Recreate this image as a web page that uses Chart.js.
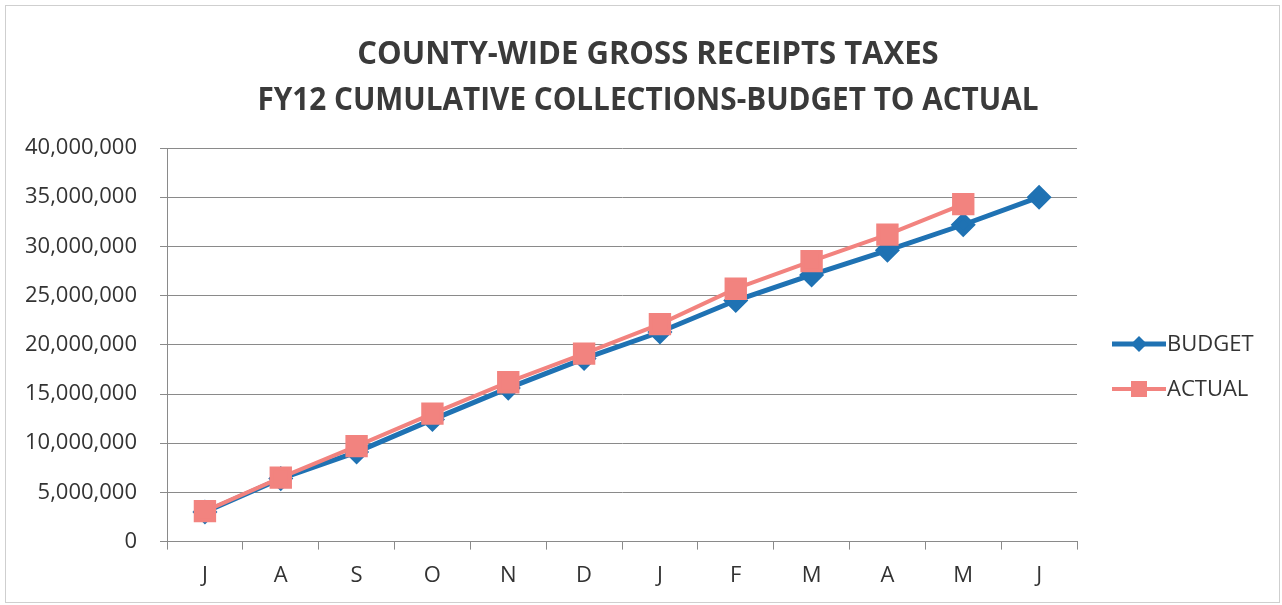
<!DOCTYPE html>
<html>
<head>
<meta charset="utf-8">
<script src="https://cdn.jsdelivr.net/npm/chart.js@4/dist/chart.umd.min.js"></script>
<style>
  html, body { margin: 0; padding: 0; background: #fff; }
  #wrap { width: 1282px; height: 605px; }
</style>
</head>
<body>
<div id="wrap"><canvas id="myChart" width="1282" height="605"></canvas></div>
<script>
// months of FY12 (July - June)
const months = ['J', 'A', 'S', 'O', 'N', 'D', 'J', 'F', 'M', 'A', 'M', 'J'];
const budget = [3000000, 6400000, 9100000, 12400000, 15600000, 18600000, 21300000, 24500000, 27100000, 29600000, 32200000, 35000000];
const actual = [3100000, 6500000, 9700000, 13000000, 16200000, 19100000, 22100000, 25700000, 28500000, 31200000, 34300000, null];
const titleLines = ['COUNTY-WIDE GROSS RECEIPTS TAXES', 'FY12 CUMULATIVE COLLECTIONS-BUDGET TO ACTUAL'];

const fontFam = '"Open Sans", "Liberation Sans", sans-serif';
const blue = '#1f72b3';
const pink = '#f2837f';

const ctx = document.getElementById('myChart').getContext('2d');

// title (narrowed bold text), right-hand legend and faint page frame
const decorations = {
  id: 'decorations',
  afterDraw(chart) {
    const c = chart.ctx;
    c.save();
    c.strokeStyle = '#cfcfcf';
    c.lineWidth = 1;
    c.strokeRect(5.5, 5.5, 1274, 597);

    // title
    c.fillStyle = '#3a3a3a';
    c.font = 'bold 33px ' + fontFam;
    c.textAlign = 'center';
    c.textBaseline = 'alphabetic';
    [[titleLines[0], 64, 0.94], [titleLines[1], 110, 0.9]].forEach(([t, y, sx]) => {
      c.save();
      c.translate(648, y);
      c.scale(sx, 1);
      c.fillText(t, 0, 0);
      c.restore();
    });

    // legend
    c.textAlign = 'left';
    const items = [
      { ds: chart.data.datasets[0], y: 344 },
      { ds: chart.data.datasets[1], y: 389 }
    ];
    items.forEach(it => {
      c.strokeStyle = it.ds.borderColor;
      c.lineWidth = it.ds.borderWidth;
      c.beginPath();
      c.moveTo(1112, it.y);
      c.lineTo(1166, it.y);
      c.stroke();
      c.fillStyle = it.ds.pointBackgroundColor;
      c.beginPath();
      if (it.ds.pointStyle === 'rectRot') {
        const r = 8;
        c.moveTo(1139 - r, it.y); c.lineTo(1139, it.y - r);
        c.lineTo(1139 + r, it.y); c.lineTo(1139, it.y + r);
        c.closePath();
      } else {
        c.rect(1131, it.y - 8, 16, 16);
      }
      c.fill();
      c.fillStyle = '#333';
      c.font = '22px ' + fontFam;
      c.textBaseline = 'middle';
      c.fillText(it.ds.label, 1167, it.y + 1);
    });
    c.restore();
  }
};

const myChart = new Chart(ctx, {
  type: 'line',
  data: {
    labels: months,
    datasets: [{
      label: 'BUDGET',
      data: budget,
      order: 1,
      borderColor: blue,
      backgroundColor: blue,
      pointBackgroundColor: blue,
      pointBorderColor: blue,
      borderWidth: 5,
      pointStyle: 'rectRot',
      pointRadius: 9,
      tension: 0
    }, {
      label: 'ACTUAL',
      data: actual,
      order: 0,
      borderColor: pink,
      backgroundColor: pink,
      pointBackgroundColor: pink,
      pointBorderColor: pink,
      borderWidth: 4,
      pointStyle: 'rect',
      pointRadius: 13,
      tension: 0
    }]
  },
  options: {
    responsive: false,
    animation: false,
    layout: {
      padding: { left: 2, right: 205, top: 148, bottom: 3 }
    },
    plugins: {
      legend: { display: false },
      tooltip: { enabled: false },
      title: { display: false }
    },
    scales: {
      x: {
        offset: true,
        grid: {
          offset: true,
          drawOnChartArea: false,
          drawTicks: true,
          tickLength: 8,
          color: '#8a8a8a'
        },
        border: { color: '#8a8a8a', width: 1 },
        ticks: {
          color: '#333',
          padding: 13,
          font: { family: fontFam, size: 22 }
        }
      },
      y: {
        min: 0,
        max: 40000000,
        grid: {
          color: '#8a8a8a',
          tickLength: 7
        },
        border: { color: '#8a8a8a', width: 1 },
        ticks: {
          stepSize: 5000000,
          color: '#333',
          padding: 23,
          font: { family: fontFam, size: 22 },
          callback: v => v.toLocaleString('en-US')
        }
      }
    }
  },
  plugins: [decorations]
});
</script>
</body>
</html>
